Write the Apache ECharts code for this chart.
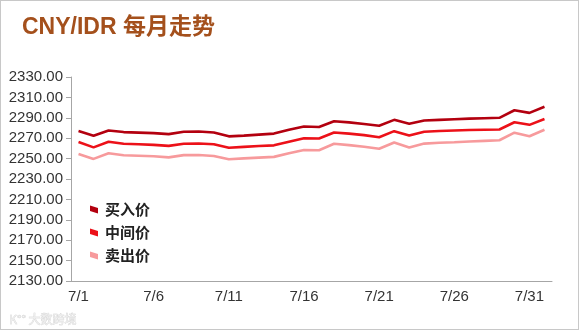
<!DOCTYPE html>
<html><head><meta charset="utf-8">
<script src="https://cdn.jsdelivr.net/npm/echarts@6/dist/echarts.min.js"></script>
<style>html,body{margin:0;padding:0;background:#fff}#c{width:579px;height:330px;box-sizing:border-box;border:1px solid #c8c8c8}</style>
</head><body><div id="c"></div>
<script>
const categories = ['7/1','7/2','7/3','7/4','7/5','7/6','7/7','7/8','7/9','7/10','7/11','7/12','7/13','7/14','7/15','7/16','7/17','7/18','7/19','7/20','7/21','7/22','7/23','7/24','7/25','7/26','7/27','7/28','7/29','7/30','7/31','8/1'];
const buyPrice  = [2277.0,2272.4,2277.6,2276.0,2275.5,2275.0,2274.0,2276.3,2276.5,2275.6,2271.8,2272.5,2273.5,2274.5,2278.3,2281.5,2281.0,2286.6,2285.5,2284.0,2282.2,2288.0,2284.1,2287.3,2288.0,2288.6,2289.2,2289.6,2290.0,2297.4,2294.8,2300.8];
const midPrice  = [2266.2,2261.0,2266.6,2264.5,2264.0,2263.5,2262.5,2264.6,2264.8,2264.0,2260.6,2261.5,2262.3,2263.0,2266.5,2270.0,2269.7,2275.6,2274.5,2273.0,2271.0,2276.9,2272.7,2276.3,2277.0,2277.5,2278.0,2278.3,2278.5,2285.6,2283.1,2288.9];
const sellPrice = [2254.6,2249.7,2255.2,2253.3,2252.8,2252.3,2251.2,2253.4,2253.6,2252.6,2249.3,2250.2,2251.0,2251.7,2255.2,2258.4,2258.2,2264.5,2263.2,2261.6,2259.6,2265.8,2260.9,2264.7,2265.5,2266.1,2266.8,2267.4,2268.0,2275.4,2271.9,2278.3];
const seriesNames = ['买入价','中间价','卖出价'];
const yMin = 2130, yMax = 2330, yStep = 20;

const chart = echarts.init(document.getElementById('c'), null, {renderer:'canvas'});
const colors = ['#b3000f','#ec1119','#f79a9c'];
const icon = 'path://M0,0 L10,3 L10,10 L0,7 Z';
chart.setOption({
  animation:false,
  title:{text:'CNY/IDR 每月走势', left:16, top:10,
    textStyle:{color:'#a4501c', fontSize:23, fontWeight:'bold', fontFamily:'Liberation Sans, Noto Sans CJK SC, sans-serif'}},
  legend:{orient:'vertical', left:84, top:196, itemWidth:8, itemHeight:8, itemGap:8, icon:icon,
    data:seriesNames,
    textStyle:{fontSize:15, color:'#222', fontWeight:'bold', fontFamily:'Noto Sans CJK SC, sans-serif', padding:[0,0,0,2]}},
  grid:{left:70, right:26, top:76, bottom:48, containLabel:false},
  xAxis:{type:'category', data:categories, boundaryGap:true,
    axisLine:{lineStyle:{color:'#a6a6a6'}},
    axisTick:{alignWithLabel:false, interval:4, length:5, lineStyle:{color:'#a6a6a6'}},
    axisLabel:{interval:4, color:'#333', fontSize:15, margin:8, fontFamily:'Liberation Sans, sans-serif'}},
  yAxis:{type:'value', min:yMin, max:yMax, interval:yStep,
    axisLine:{show:true, lineStyle:{color:'#a6a6a6'}},
    axisTick:{show:true, length:5, lineStyle:{color:'#a6a6a6'}},
    splitLine:{show:false},
    axisLabel:{color:'#333', fontSize:15, margin:8, fontFamily:'Liberation Sans, sans-serif',
      formatter:v=>v.toFixed(2)}},
  graphic:[{type:'text', left:8, top:312, style:{text:'K°° 大数跨境', fill:'#eeeeee', stroke:'#cfcfcf', lineWidth:0.6, fontSize:12, fontFamily:'Noto Sans CJK SC, sans-serif'}}],
  series:[
    {name:seriesNames[0], type:'line', data:buyPrice, showSymbol:false, symbol:'none', lineStyle:{width:2.6, color:colors[0]}, itemStyle:{color:colors[0]}},
    {name:seriesNames[1], type:'line', data:midPrice, showSymbol:false, symbol:'none', lineStyle:{width:2.6, color:colors[1]}, itemStyle:{color:colors[1]}},
    {name:seriesNames[2], type:'line', data:sellPrice, showSymbol:false, symbol:'none', lineStyle:{width:2.6, color:colors[2]}, itemStyle:{color:colors[2]}}
  ]
});
</script></body></html>
